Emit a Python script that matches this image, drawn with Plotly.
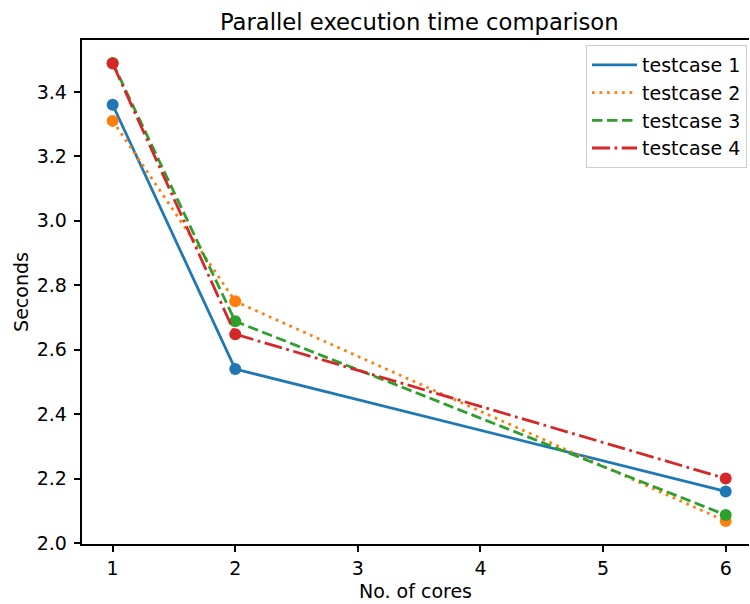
import plotly.graph_objects as go

cores = [1, 2, 6]
testcase1 = [3.36, 2.54, 2.16]
testcase2 = [3.31, 2.75, 2.068]
testcase3 = [3.49, 2.688, 2.087]
testcase4 = [3.488, 2.648, 2.20]
names = ["testcase 1", "testcase 2", "testcase 3", "testcase 4"]
series = [testcase1, testcase2, testcase3, testcase4]
colors = ["#1f77b4", "#ff7f0e", "#2ca02c", "#d62728"]
dashes = ["solid", "2.8px,4.7px", "10.5px,4.5px", "18px,4.5px,2.8px,4.5px"]

fig = go.Figure()
for name, vals, c, d in zip(names, series, colors, dashes):
    fig.add_trace(go.Scatter(x=cores, y=vals, mode="lines", name=name,
                             line=dict(color=c, width=2.8, dash=d)))
    fig.add_trace(go.Scatter(x=cores, y=vals, mode="markers", showlegend=False,
                             marker=dict(color=c, size=12, line=dict(width=0)),
                             hoverinfo="skip"))

font = "DejaVu Sans, sans-serif"
fs = 19
fig.update_layout(
    width=750, height=604,
    margin=dict(l=82, r=1, t=40, b=60),
    plot_bgcolor="white", paper_bgcolor="white",
    font=dict(family=font, size=fs, color="black"),
    title=dict(text="Parallel execution time comparison", x=0.559, xref="container",
               xanchor="center", y=1 - 22 / 604, yanchor="middle",
               font=dict(size=22.7, color="black")),
    xaxis=dict(range=[0.75, 6.19], tickvals=[1, 2, 3, 4, 5, 6], showgrid=False, zeroline=False,
               showline=True, linecolor="black", linewidth=1.5, mirror=True,
               ticks="outside", ticklen=6.5, tickwidth=1.5, tickcolor="black",
               tickfont=dict(size=fs, color="black"),
               title=dict(text="No. of cores", standoff=7, font=dict(size=fs))),
    yaxis=dict(range=[1.997, 3.561], tickvals=[2.0, 2.2, 2.4, 2.6, 2.8, 3.0, 3.2, 3.4],
               tickformat=".1f", showgrid=False, zeroline=False,
               showline=True, linecolor="black", linewidth=1.5,
               ticks="outside", ticklen=6.5, tickwidth=1.5, tickcolor="black",
               tickfont=dict(size=fs, color="black"), ticklabelstandoff=3,
               title=dict(text="Seconds", standoff=3, font=dict(size=fs))),
    legend=dict(x=0.997, y=0.99, xanchor="right", yanchor="top",
                bgcolor="rgba(255,255,255,0.8)", bordercolor="#cccccc", borderwidth=1,
                font=dict(size=fs), tracegroupgap=0, itemwidth=45),
    showlegend=True,
)
fig.write_html("out.html")
